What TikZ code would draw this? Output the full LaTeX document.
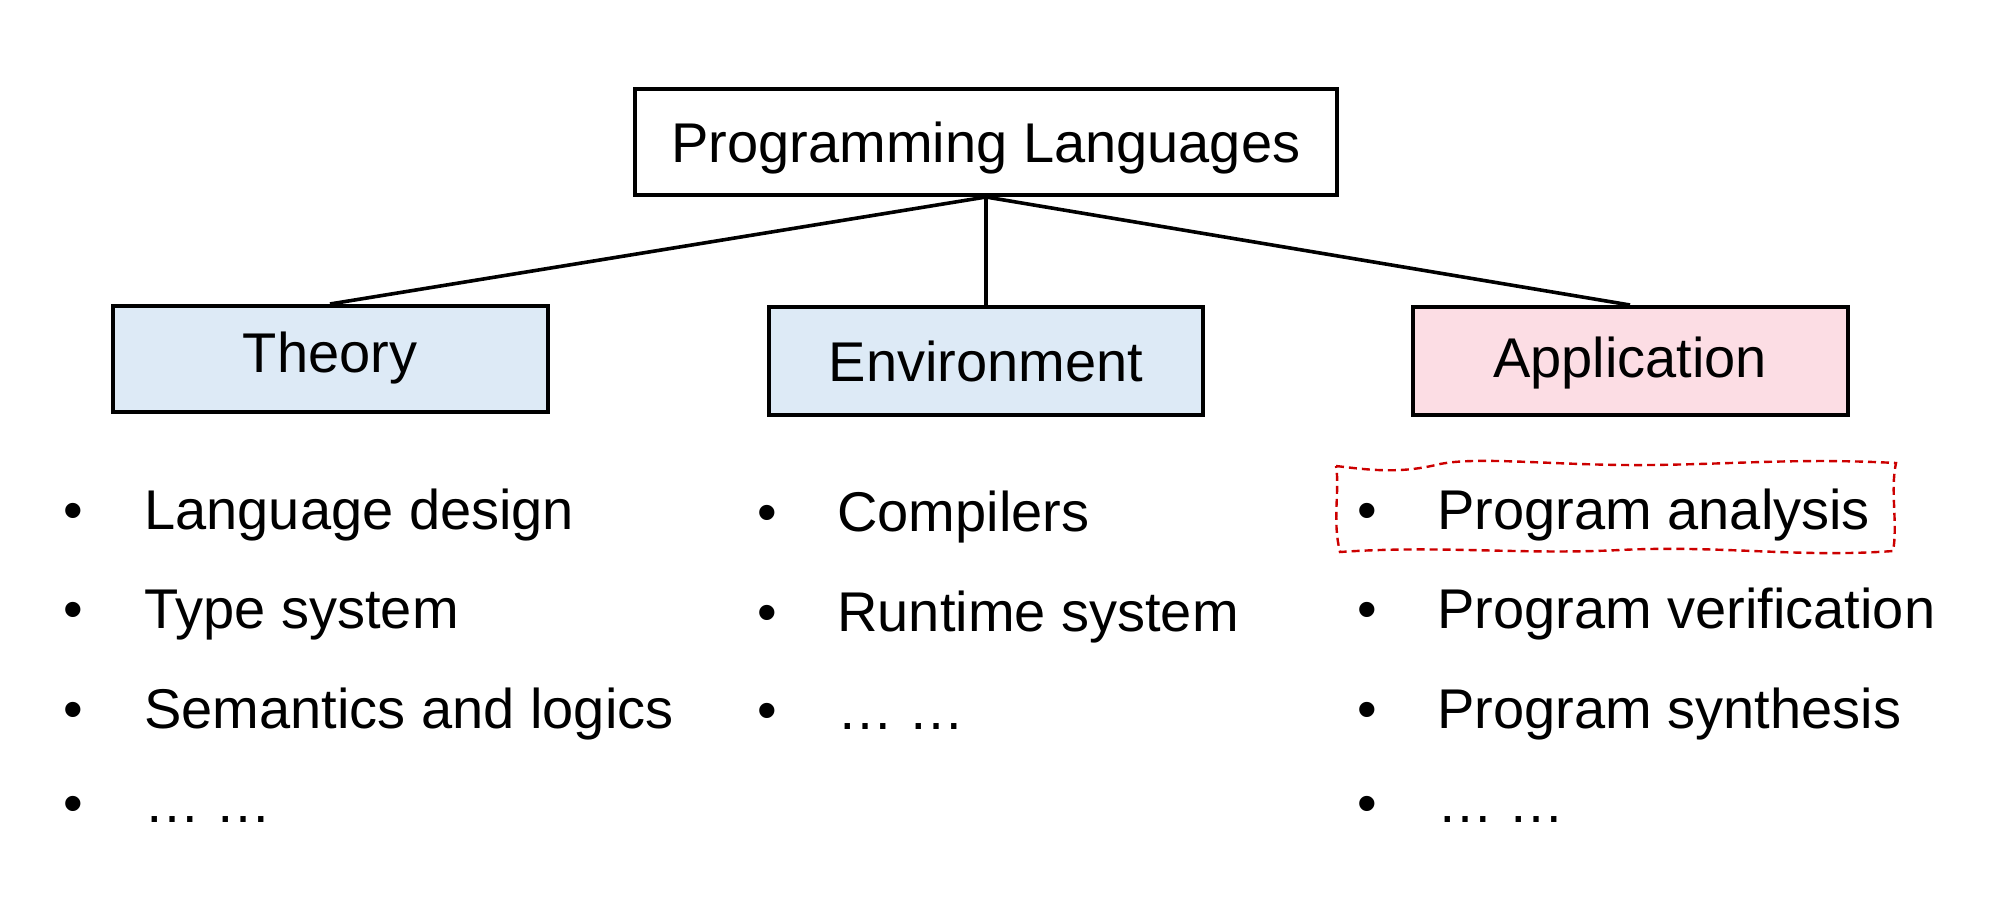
\documentclass[tikz,border=0pt]{standalone}
\usepackage{fontspec}
\setmainfont{Liberation Sans}
\definecolor{blueFill}{RGB}{221,234,246}
\definecolor{pinkFill}{RGB}{252,221,228}
\definecolor{hlRed}{RGB}{204,0,0}
\begin{document}
\begin{tikzpicture}[x=0.5pt,y=-0.5pt]
\tikzset{
  box/.style={draw=black, line width=2pt, minimum height=53pt, inner sep=0pt,
    font=\fontsize{28}{34}\selectfont, text height=20pt, text depth=0pt},
  item/.style={anchor=base west, inner sep=0pt, font=\fontsize{28}{34}\selectfont},
  bul/.style={anchor=base, inner sep=0pt, font=\fontsize{28}{34}\selectfont},
  conn/.style={line width=1.8pt},
  hl/.style={draw=hlRed, line width=1.2pt, dash pattern=on 4pt off 2.5pt}
}
\useasboundingbox (0,0) rectangle (2000,900);

\node[box, minimum width=351pt] (pl) at (986,142) {Programming Languages};
\node[box, fill=blueFill, minimum width=217.5pt, text depth=7pt] (th) at (330,359) {Theory};
\node[box, fill=blueFill, minimum width=217pt, minimum height=54pt] (env) at (986,361) {Environment};
\node[box, fill=pinkFill, minimum width=217.5pt, minimum height=54pt, text depth=4pt] (app) at (1630,361) {Application};

\draw[conn] (pl.south) -- (th.north);
\draw[conn] (pl.south) -- (env.north);
\draw[conn] (pl.south) -- (app.north);

% Theory column
\node[bul] (tb1) at (73,529) {•};
\node[item] (t1) at (144,529) {Language design};
\node[bul] (tb2) at (73,628) {•};
\node[item] (t2) at (144,628) {Type system};
\node[bul] (tb3) at (73,728) {•};
\node[item] (t3) at (144,728) {Semantics and logics};
\node[bul] (tb4) at (73,822) {•};
\node[item] (t4) at (144,822) {… …};

% Environment column
\node[bul] (eb1) at (767,531) {•};
\node[item] (e1) at (837,531) {Compilers};
\node[bul] (eb2) at (767,631) {•};
\node[item] (e2) at (837,631) {Runtime system};
\node[bul] (eb3) at (767,729) {•};
\node[item] (e3) at (837,729) {… …};

% Application column
\node[bul] (ab1) at (1367,529) {•};
\node[item] (a1) at (1437,529) {Program analysis};
\node[bul] (ab2) at (1367,628) {•};
\node[item] (a2) at (1437,628) {Program verification};
\node[bul] (ab3) at (1367,728) {•};
\node[item] (a3) at (1437,728) {Program synthesis};
\node[bul] (ab4) at (1367,822) {•};
\node[item] (a4) at (1437,822) {… …};

% highlight
\draw[hl] (1336,466) .. controls (1370,470) and (1400,474) .. (1440,464)
  .. controls (1480,456) and (1560,466) .. (1650,465)
  .. controls (1740,464) and (1800,458) .. (1896,463)
  .. controls (1890,490) and (1898,525) .. (1893,551)
  .. controls (1800,558) and (1720,545) .. (1620,550)
  .. controls (1520,555) and (1440,545) .. (1340,552)
  .. controls (1332,520) and (1340,490) .. cycle;
\end{tikzpicture}
\end{document}
